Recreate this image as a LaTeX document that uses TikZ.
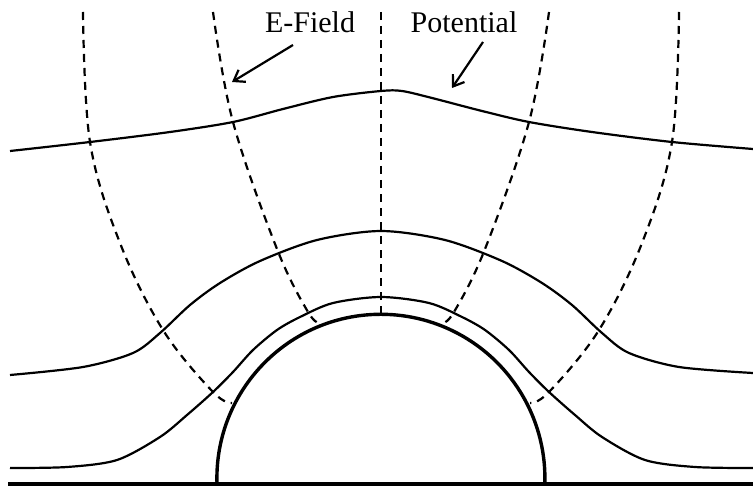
\documentclass[tikz,border=0pt]{standalone}
\usepackage{fontspec}
\setmainfont{Liberation Serif}
\usetikzlibrary{arrows.meta}

\begin{document}
\begin{tikzpicture}[x=0.5pt, y=-0.5pt,
    fieldline/.style={line width=1.1pt, dash pattern=on 4pt off 3pt},
    equipot/.style={line width=1.1pt},
    conductor/.style={line width=1.7pt},
    lblarrow/.style={line width=1.1pt, -{Straight Barb[length=5pt, width=7pt]}}]
    \useasboundingbox (0,0) rectangle (753,486);

    % conductor and ground plane
    \draw[conductor] (8,484) -- (753,484);
    \draw[conductor] (217,484) arc[start angle=178, end angle=362, radius=164];

    % equipotential lines
    \draw[equipot] plot[smooth, tension=0.5] coordinates {(10,151) (90,142) (170,132) (233,122)
        (283,109) (333,97) (381,91) (402,91) (432,98) (482,111) (529,122) (592,132) (672,142) (753,149)};
    \draw[equipot] plot[smooth, tension=0.5] coordinates {(10,375) (83,367) (133,353) (160,333)
        (190,305) (220,283) (260,261) (317,240) (381,231) (445,240) (502,261) (542,283) (572,305)
        (602,333) (629,353) (679,367) (753,373)};
    \draw[equipot] plot[smooth, tension=0.5] coordinates {(10,468) (67,467) (117,460) (160,437)
        (187,415) (213,392) (233,372) (253,350) (277,330) (300,317) (333,303) (381,297) (429,303)
        (462,317) (485,330) (509,350) (529,372) (549,392) (575,415) (602,437) (645,460) (695,467)
        (753,468)};

    % field lines
    \foreach \s in {1,-1} {
        \begin{scope}[xshift={381*(1-\s)*0.5pt}, xscale=\s]
            \draw[fieldline] plot[smooth, tension=0.6] coordinates {(83,12) (90,142) (120,243)
                (163,330) (213,392) (232,403)};
            \draw[fieldline] plot[smooth, tension=0.6] coordinates {(213,12) (233,122) (277,249)
                (308,312) (320,323)};
        \end{scope}
    }
    \draw[fieldline] (381,12) -- (381,315);

    % labels
    \node[font=\fontsize{15}{18}\selectfont, anchor=base] (efield) at (310,33) {E-Field};
    \node[font=\fontsize{15}{18}\selectfont, anchor=base] (potential) at (464,33) {Potential};
    \coordinate (etail) at (293,45);
    \coordinate (ehead) at (232,82);
    \coordinate (ptail) at (483,42);
    \coordinate (phead) at (452,88);
    \draw[lblarrow] (etail) -- (ehead);
    \draw[lblarrow] (ptail) -- (phead);
\end{tikzpicture}
\end{document}
